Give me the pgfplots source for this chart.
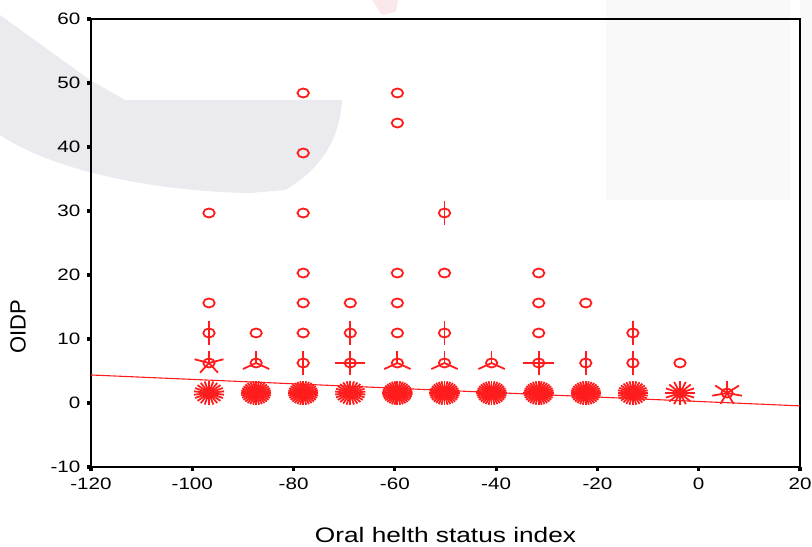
\documentclass[border=0pt]{standalone}
\usepackage{pgfplots}
\pgfplotsset{compat=1.18}
\usepackage{fontspec}
\setmainfont{Liberation Sans}[FakeStretch=1.25]
\newfontfamily\uprightsans{Liberation Sans}

\definecolor{plotred}{RGB}{255,28,28}
\definecolor{wmgray}{RGB}{234,234,239}
\definecolor{wmlight}{RGB}{249,249,250}
\definecolor{wmpink}{RGB}{251,232,234}

\def\petalcount{1}
% Sunflower mark: an ellipse with one petal per case (none for a single case)
\pgfdeclareplotmark{sunflower}{%
  \pgfpathellipse{\pgfpointorigin}{\pgfqpoint{2.85pt}{0pt}}{\pgfqpoint{0pt}{2.25pt}}%
  \pgfusepathqstroke
  \pgfmathtruncatemacro\npetals{\petalcount}%
  \ifnum\npetals>1
    \pgfmathsetmacro\petalstep{360/\npetals}%
    \foreach \k in {1,...,\npetals}{%
      \pgfmathsetmacro\ang{90+(\k-1)*\petalstep}%
      \pgfpathmoveto{\pgfpointorigin}%
      \pgfpathlineto{\pgfpoint{7.6pt*cos(\ang)}{6.0pt*sin(\ang)}}%
      \pgfusepathqstroke
    }%
  \fi
}

% x = binned index, y = OIDP, n = number of cases in the cell
\pgfplotstableread{
x      y      n
-96.7  1.56   22
-96.7  6.25   5
-96.7  10.94  2
-96.7  15.63  1
-96.7  29.69  1
-87.4  1.56   32
-87.4  6.25   3
-87.4  10.94  1
-78.1  1.56   32
-78.1  6.25   2
-78.1  10.94  1
-78.1  15.63  1
-78.1  20.31  1
-78.1  29.69  1
-78.1  39.06  1
-78.1  48.44  1
-68.8  1.56   26
-68.8  6.25   4
-68.8  10.94  2
-68.8  15.63  1
-59.5  1.56   34
-59.5  6.25   3
-59.5  10.94  1
-59.5  15.63  1
-59.5  20.31  1
-59.5  43.75  1
-59.5  48.44  1
-50.2  1.56   32
-50.2  6.25   3
-50.2  10.94  2
-50.2  20.31  1
-50.2  29.69  2
-40.9  1.56   32
-40.9  6.25   3
-31.6  1.56   32
-31.6  6.25   4
-31.6  10.94  1
-31.6  15.63  1
-31.6  20.31  1
-22.3  1.56   32
-22.3  6.25   2
-22.3  15.63  1
-13.0  1.56   28
-13.0  6.25   2
-13.0  10.94  2
-3.7   1.56   16
-3.7   6.25   1
5.6    1.56   7
}\cells

\begin{document}
\begin{tikzpicture}
% faint background shapes (page coordinates, 0.5pt units)
\begin{scope}[x=0.5pt,y=-0.5pt,shift={(-91,-467)}]
  \fill[wmlight] (606,0) rectangle (790,200);
  \fill[wmlight] (800,0) rectangle (812,400);
  \fill[wmpink] (372,0) -- (398,0) -- (396,12) -- (382,15) -- cycle;
  \fill[wmgray] (0,15) -- (90,80) -- (125,100) -- (342,100)
     .. controls (340,140) and (320,170) .. (285,190)
     -- (250,193) .. controls (170,192) and (60,175) .. (0,135) -- cycle;
\end{scope}

\begin{axis}[
  at={(0,0)}, anchor=south west,
  scale only axis, width=354.5pt, height=224pt,
  xmin=-120, xmax=20, ymin=-10, ymax=60,
  xtick={-120,-100,...,20}, ytick={-10,0,...,60},
  tick align=outside, xtick pos=left, ytick pos=left,
  major tick length=1.8pt,
  every tick/.style={black, line width=1.6pt},
  axis line style={black, line width=0.9pt},
  tick label style={font=\fontsize{8.25}{10}\selectfont},
  /pgf/number format/assume math mode=true,
  xlabel={Oral helth status index},
  ylabel={\fontsize{11}{13}\selectfont\uprightsans OIDP},
  label style={font=\fontsize{10.5}{12}\selectfont},
  xlabel style={at={(axis description cs:0.5,0)}, anchor=center, yshift=-34pt},
  ylabel style={at={(axis description cs:-0.103,0.3125)}, anchor=center},
  clip=false,
]
\addplot[plotred, line width=0.55pt] coordinates {(-120,4.38) (20,-0.45)};
\addplot[
  scatter, only marks, mark=sunflower,
  point meta=\thisrow{n},
  visualization depends on={\thisrow{n} \as \petalcount},
  scatter/use mapped color={draw=plotred},
  mark options={line width=0.9pt},
] table[x=x, y=y] {\cells};
\end{axis}

\pgfresetboundingbox
\path (-45.5pt,-39.5pt) rectangle (360.5pt,233.5pt);
\end{tikzpicture}
\end{document}
